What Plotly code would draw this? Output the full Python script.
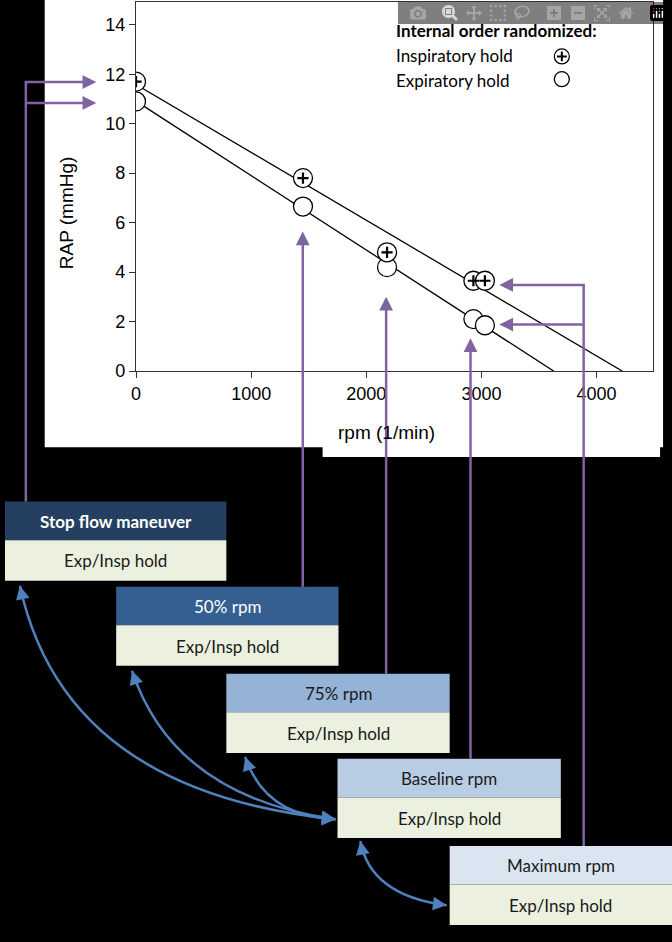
import numpy as np
import plotly.graph_objects as go

rpm = [0, 1450, 2180, 2930, 3030]
insp = [11.7, 7.8, 4.8, 3.65, 3.65]
exp_ = [10.9, 6.65, 4.2, 2.1, 1.85]
x_ticks = [0, 1000, 2000, 3000, 4000]
y_ticks = [0, 2, 4, 6, 8, 10, 12, 14]
steps = ["Stop flow maneuver", "50% rpm", "75% rpm", "Baseline rpm", "Maximum rpm"]
step_sub = "Exp/Insp hold"

W, H = 672, 942
PURPLE = "#8064a2"
BLUE = "#4f81bd"
fig = go.Figure()

for ys in (insp, exp_):
    m, b = np.polyfit(rpm, ys, 1)
    x0 = -b / m
    fig.add_trace(go.Scatter(x=[0, x0], y=[b, 0], mode="lines",
                             line=dict(color="black", width=1.3), showlegend=False, hoverinfo="skip"))
fig.add_trace(go.Scatter(x=rpm, y=exp_, mode="markers", showlegend=False,
                         marker=dict(symbol="circle", size=19, color="white", line=dict(color="black", width=1.3))))
fig.add_trace(go.Scatter(x=rpm, y=insp, mode="markers", showlegend=False,
                         marker=dict(symbol="circle", size=19, color="white", line=dict(color="black", width=1.3))))
fig.add_trace(go.Scatter(x=rpm, y=insp, mode="markers", showlegend=False,
                         marker=dict(symbol="cross-thin", size=8, line=dict(color="black", width=2.2))))

px = lambda v: v / W
py = lambda v: 1 - v / H
fig.update_layout(
    width=W, height=H, margin=dict(l=0, r=0, t=0, b=0),
    paper_bgcolor="black", plot_bgcolor="rgba(0,0,0,0)",
    font=dict(family="Liberation Sans, Arial", color="black"),
    xaxis=dict(domain=[px(132), px(653)], range=[0, 4491], tickvals=x_ticks, ticks="outside",
               ticklen=6, showline=True, linecolor="#333", linewidth=1.3, mirror=True,
               showgrid=False, zeroline=False, tickfont=dict(size=18), tickcolor="#333"),
    yaxis=dict(domain=[py(375), py(2)], range=[0, 14.92], tickvals=y_ticks, ticks="outside",
               ticklen=6, showline=True, linecolor="#333", linewidth=1.3, mirror=True,
               showgrid=False, zeroline=False, tickfont=dict(size=18), tickcolor="#333"),
    xaxis2=dict(domain=[0, 1], range=[0, W], visible=False, anchor="y2"),
    yaxis2=dict(domain=[0, 1], range=[H, 0], visible=False, anchor="x2"),
)

shapes = []
for (a, b_, c, d) in [(40, 663, 0, 452), (320, 660, 440, 462)]:
    shapes.append(dict(type="rect", xref="paper", yref="paper", x0=px(a), x1=px(b_),
                       y0=py(d), y1=py(c), fillcolor="white", line=dict(width=0), layer="below"))

boxes = [(0, 223, 507), (112, 336, 593), (223, 448, 681), (335, 560, 767), (448, 672, 855)]
hdr_cols = ["#243f60", "#365f91", "#95b3d7", "#b8cce4", "#dbe5f1"]
txt_cols = ["white", "white", "#1a1a1a", "#1a1a1a", "#1a1a1a"]
ann = []
for (x0, x1, y0), name, hc, tc in zip(boxes, steps, hdr_cols, txt_cols):
    shapes.append(dict(type="rect", xref="x2", yref="y2", x0=x0, x1=x1, y0=y0, y1=y0 + 39,
                       fillcolor=hc, line=dict(width=0)))
    shapes.append(dict(type="rect", xref="x2", yref="y2", x0=x0, x1=x1, y0=y0 + 39, y1=y0 + 80,
                       fillcolor="#ebf1de", line=dict(width=0)))
    bold = name.startswith("Stop")
    ann.append(dict(xref="x2", yref="y2", x=(x0 + x1) / 2, y=y0 + 20, showarrow=False,
                    text=f"<b>{name}</b>" if bold else name,
                    font=dict(family="Lato", size=17, color=tc)))
    ann.append(dict(xref="x2", yref="y2", x=(x0 + x1) / 2, y=y0 + 60, showarrow=False,
                    text=step_sub, font=dict(family="Lato", size=17, color="#1a1a1a")))

def pline(pts):
    d = "M " + " L ".join(f"{a},{b}" for a, b in pts)
    shapes.append(dict(type="path", xref="x2", yref="y2", path=d, line=dict(color=PURPLE, width=2.5)))

def parrow(x, y, ax, ay, color=PURPLE):
    ann.append(dict(xref="x2", yref="y2", x=x, y=y, ax=ax, ay=ay, text="", showarrow=True,
                    arrowhead=2, arrowsize=1.1, arrowwidth=2.5, arrowcolor=color))

pline([(21, 507), (21, 83), (80, 83)])
pline([(21, 104), (80, 104)])
parrow(92, 83, -14, 0); parrow(92, 104, -14, 0)
for xv, ytop, yb in [(300, 234, 593), (384, 300, 681), (469, 342, 767)]:
    pline([(xv, yb), (xv, ytop + 12)])
    parrow(xv, ytop, 0, 14)
pline([(583, 855), (583, 288), (510, 288)])
pline([(583, 328), (510, 328)])
parrow(498, 288, 14, 0); parrow(498, 328, 14, 0)

curves = [((15, 592), (60, 800), (333, 828)),
          ((128, 678), (170, 805), (333, 828)),
          ((242, 765), (262, 825), (333, 828)),
          ((358, 850), (368, 905), (445, 915))]
for (s, c, e) in curves:
    shapes.append(dict(type="path", xref="x2", yref="y2",
                       path=f"M {s[0]},{s[1]} Q {c[0]},{c[1]} {e[0]},{e[1]}",
                       line=dict(color=BLUE, width=2.5)))
    for p, q in ((e, c), (s, c)):
        dx, dy = q[0] - p[0], q[1] - p[1]
        n = (dx * dx + dy * dy) ** 0.5
        parrow(p[0], p[1], dx / n * 12, dy / n * 12, BLUE)

ann.append(dict(xref="x2", yref="y2", x=392, y=31, xanchor="left", showarrow=False,
                text="<b>Internal order randomized:</b>", font=dict(family="Lato", size=17)))
ann.append(dict(xref="x2", yref="y2", x=392, y=56, xanchor="left", showarrow=False,
                text="Inspiratory hold", font=dict(family="Lato", size=17)))
ann.append(dict(xref="x2", yref="y2", x=392, y=81, xanchor="left", showarrow=False,
                text="Expiratory hold", font=dict(family="Lato", size=17)))
fig.add_trace(go.Scatter(x=[561, 561], y=[57, 80], xaxis="x2", yaxis="y2", mode="markers",
                         showlegend=False, hoverinfo="skip",
                         marker=dict(symbol="circle", size=15, color="white", line=dict(color="black", width=1.3))))
fig.add_trace(go.Scatter(x=[561], y=[57], xaxis="x2", yaxis="y2", mode="markers",
                         showlegend=False, hoverinfo="skip",
                         marker=dict(symbol="cross-thin", size=7, line=dict(color="black", width=2))))

ann.append(dict(xref="x2", yref="y2", x=62, y=215, textangle=-90, showarrow=False,
                text="RAP (mmHg)", font=dict(size=19)))
ann.append(dict(xref="x2", yref="y2", x=384, y=437, showarrow=False,
                text="rpm (1/min)", font=dict(size=19)))

fig.update_layout(shapes=shapes, annotations=ann)
fig.write_html("out.html", post_script="document.body.style.margin='0';document.body.style.background='black';")
